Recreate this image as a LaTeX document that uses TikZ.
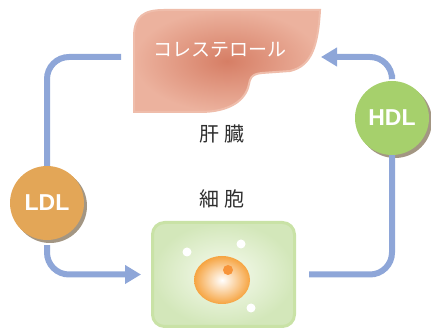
\documentclass[tikz,border=0pt]{standalone}
\usepackage{fontspec}
\newfontfamily\jpfont{Noto Sans CJK JP}
\newfontfamily\lpfont{Liberation Sans}
\usetikzlibrary{positioning,arrows.meta}
\definecolor{flowblue}{HTML}{8EA6D8}
\definecolor{ldlorange}{HTML}{E3A657}
\definecolor{hdlgreen}{HTML}{A6D06C}
\definecolor{ballshadow}{HTML}{A39683}
\definecolor{liverin}{HTML}{D67E65}
\definecolor{liverout}{HTML}{ECB29E}
\definecolor{liverrim}{HTML}{EFBDAB}
\definecolor{cellin}{HTML}{F7FBF0}
\definecolor{cellout}{HTML}{D3E7BA}
\definecolor{cellrim}{HTML}{C9E2A6}
\definecolor{nucout}{HTML}{F6A441}
\definecolor{labelgray}{HTML}{2E2E2E}
\tikzset{
  flow/.style={draw=flowblue,line width=6pt,rounded corners=22pt},
  flowarr/.style={flow,-{Triangle[length=16pt,width=18pt]}},
  ball/.style={circle,minimum size=74pt,inner sep=0pt,text=white,
    font=\lpfont\bfseries\fontsize{23}{23}\selectfont},
  organ/.style={text=labelgray,font=\jpfont\fontsize{20}{20}\selectfont},
}
\begin{document}
\begin{tikzpicture}[x=1pt,y=-1pt]
  \useasboundingbox (0,0) rectangle (431,328);

  % liver
  \shade[inner color=liverin,outer color=liverout,draw=liverrim,line width=2pt]
    (134,112) -- (134,37) .. controls (134,16) and (144,10) .. (164,10)
    -- (320,10) .. controls (318,45) and (312,66) .. (290,71)
    -- (262,73) .. controls (250,74) and (250,80) .. (249,84)
    .. controls (246,100) and (230,112) .. (200,112) -- cycle;
  \node[text=white,font=\jpfont\fontsize{19}{19}\selectfont] (chol) at (220,50) {コレステロール};
  \coordinate (liverW) at (134,57);
  \coordinate (liverE) at (321,57);

  % cell
  \node[draw=cellrim,line width=3pt,rounded corners=12pt,inner color=cellin,outer color=cellout,
    minimum width=142pt,minimum height=104pt] (cell) at (223.5,274.5) {};
  \shade[inner color=white,outer color=nucout] (222,280) ellipse (28 and 24);
  \fill[nucout!90!red] (228,270) circle (5);
  \fill[white] (187,252) circle (4.5);
  \fill[white] (241,244) circle (4.5);
  \fill[white] (251,308) circle (4.5);

  \node[organ] (kanzo) at (222,134) {肝\hspace{5pt}臓};
  \node[organ] (saibo) at (222,199) {細\hspace{5pt}胞};

  % lipoproteins
  \fill[ballshadow] (50,206) circle (37);
  \node[ball,fill=ldlorange] (ldl) at (47,203) {LDL};
  \fill[ballshadow] (395,121) circle (37);
  \node[ball,fill=hdlgreen] (hdl) at (392,118) {HDL};

  % transport
  \draw[flow,shorten >=13pt] (ldl.north) |- (liverW);
  \draw[flowarr,shorten <=5pt,shorten >=10pt] (ldl.south) |- (cell.west);
  \draw[flow,shorten <=13pt] (cell.east) -| (hdl.south);
  \draw[flowarr,shorten <=6pt] (hdl.north) |- (liverE);
\end{tikzpicture}
\end{document}
